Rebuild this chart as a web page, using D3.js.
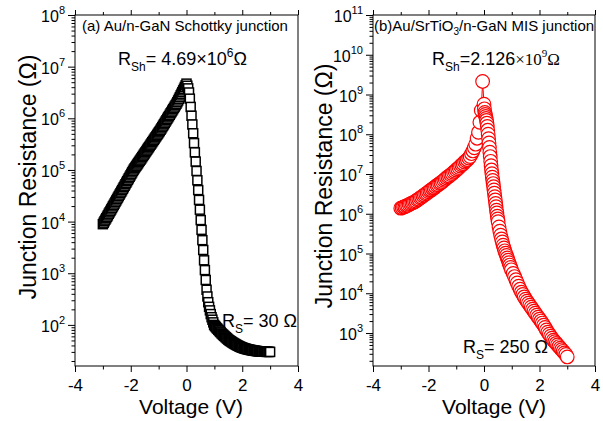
<!DOCTYPE html>
<html>
<head>
<meta charset="utf-8">
<script src="https://cdn.jsdelivr.net/npm/d3@7"></script>
<style>
  body { margin: 0; background: #fff; }
  svg { display: block; font-family: "Liberation Sans", Arial, sans-serif; }
</style>
</head>
<body>
<svg id="chart" width="603" height="421"></svg>
<script>
// (a) Au/n-GaN Schottky junction: sweep voltage (V) and resistance (ohm)
var schottkyV = [
  -3, -2.97, -2.94, -2.91, -2.88, -2.85, -2.82, -2.79, -2.76, -2.73,
  -2.7, -2.67, -2.64, -2.61, -2.58, -2.55, -2.52, -2.49, -2.46, -2.43,
  -2.4, -2.37, -2.34, -2.31, -2.28, -2.25, -2.22, -2.19, -2.16, -2.13,
  -2.1, -2.07, -2.04, -2.01, -1.98, -1.95, -1.92, -1.89, -1.86, -1.83,
  -1.8, -1.77, -1.74, -1.71, -1.68, -1.65, -1.62, -1.59, -1.56, -1.53,
  -1.5, -1.47, -1.44, -1.41, -1.38, -1.35, -1.32, -1.29, -1.26, -1.23,
  -1.2, -1.17, -1.14, -1.11, -1.08, -1.05, -1.02, -0.99, -0.96, -0.93,
  -0.9, -0.87, -0.84, -0.81, -0.78, -0.75, -0.72, -0.69, -0.66, -0.63,
  -0.6, -0.57, -0.54, -0.51, -0.48, -0.45, -0.42, -0.39, -0.36, -0.33,
  -0.3, -0.27, -0.24, -0.21, -0.18, -0.15, -0.12, -0.09, -0.06, -0.03,
  0,
  0.03, 0.06, 0.09, 0.12, 0.15, 0.18, 0.21, 0.24, 0.27, 0.3,
  0.33, 0.36, 0.39, 0.42, 0.45, 0.48, 0.51, 0.54, 0.57, 0.6,
  0.63, 0.66, 0.69, 0.72, 0.75, 0.78, 0.81, 0.84, 0.87, 0.9,
  0.93, 0.96, 0.99,
  1.02, 1.05, 1.08, 1.11, 1.14, 1.17, 1.2, 1.23, 1.26, 1.29,
  1.32, 1.35, 1.38, 1.41, 1.44, 1.47, 1.5, 1.53, 1.56, 1.59,
  1.62, 1.65, 1.68, 1.71, 1.74, 1.77, 1.8, 1.83, 1.86, 1.89,
  1.92, 1.95, 1.98, 2.01, 2.04, 2.07, 2.1, 2.13, 2.16, 2.19,
  2.22, 2.25, 2.28, 2.31, 2.34, 2.37, 2.4, 2.43, 2.46, 2.49,
  2.52, 2.55, 2.58, 2.61, 2.64, 2.67, 2.7, 2.73, 2.76, 2.79,
  2.82, 2.85, 2.88, 2.91, 2.94, 2.97, 3
];
var schottkyR = [
  8.91e3, 9.52e3, 1.02e4, 1.09e4, 1.16e4, 1.24e4, 1.32e4, 1.42e4, 1.51e4, 1.61e4,
  1.72e4, 1.84e4, 1.97e4, 2.10e4, 2.24e4, 2.40e4, 2.56e4, 2.74e4, 2.92e4, 3.12e4,
  3.33e4, 3.56e4, 3.80e4, 4.06e4, 4.34e4, 4.64e4, 4.95e4, 5.29e4, 5.65e4, 6.04e4,
  6.45e4, 6.89e4, 7.36e4, 7.86e4, 8.39e4, 8.97e4, 9.58e4, 1.02e5, 1.08e5, 1.14e5,
  1.20e5, 1.27e5, 1.34e5, 1.42e5, 1.50e5, 1.58e5, 1.67e5, 1.77e5, 1.87e5, 1.98e5,
  2.09e5, 2.21e5, 2.33e5, 2.47e5, 2.61e5, 2.75e5, 2.91e5, 3.08e5, 3.25e5, 3.44e5,
  3.63e5, 3.84e5, 4.06e5, 4.29e5, 4.53e5, 4.79e5, 5.06e5, 5.35e5, 5.65e5, 6.00e5,
  6.37e5, 6.78e5, 7.20e5, 7.65e5, 8.13e5, 8.65e5, 9.19e5, 9.77e5, 1.04e6, 1.10e6,
  1.17e6, 1.25e6, 1.32e6, 1.41e6, 1.50e6, 1.59e6, 1.69e6, 1.80e6, 1.91e6, 2.05e6,
  2.21e6, 2.38e6, 2.56e6, 2.77e6, 2.98e6, 3.21e6, 3.47e6, 3.73e6, 4.03e6, 4.34e6,
  4.69e6,
  4.27e6, 3.8e6, 3.16e6, 2.4e6, 1.66e6, 1.12e6, 7.59e5, 5.13e5, 3.31e5, 2.19e5,
  1.45e5, 9.55e4, 6.31e4, 4.07e4, 2.63e4, 1.7e4, 1.07e4, 6.92e3, 4.37e3, 2.82e3,
  1.78e3, 1.15e3, 741, 479, 355, 275, 224, 191, 162, 141,
  126, 112, 100,
  95.5, 91.2, 87.1, 84.1, 80.4, 77.6, 74.1, 71.6, 68.4, 66.1,
  63.8, 61.7, 59.6, 57.5, 55.6, 53.7, 51.9, 50.5, 49.2, 48.0,
  46.8, 45.6, 44.6, 43.6, 42.6, 41.7, 40.8, 40.0, 39.3, 38.5,
  37.8, 37.2, 36.6, 36.1, 35.6, 35.2, 34.8, 34.4, 34.0, 33.7,
  33.4, 33.1, 32.8, 32.6, 32.4, 32.1, 31.9, 31.7, 31.5, 31.3,
  31.2, 31.0, 30.9, 30.8, 30.6, 30.5, 30.5, 30.4, 30.3, 30.3,
  30.2, 30.1, 30.1, 30.1, 30.0, 30.0, 30
];

// (b) Au/SrTiO3/n-GaN MIS junction: sweep voltage (V) and resistance (ohm)
var misV = [
  -3, -2.95, -2.9, -2.85, -2.8, -2.75, -2.7, -2.65, -2.6, -2.55,
  -2.5, -2.45, -2.4, -2.35, -2.3, -2.25, -2.2, -2.15, -2.1, -2.05,
  -2, -1.95, -1.9, -1.85, -1.8, -1.75, -1.7, -1.65, -1.6, -1.55,
  -1.5, -1.45, -1.4, -1.35, -1.3, -1.25, -1.2, -1.15, -1.1, -1.05,
  -1, -0.95, -0.9, -0.85, -0.8, -0.75, -0.7, -0.65, -0.6, -0.55,
  -0.5, -0.45, -0.4, -0.35, -0.3, -0.25, -0.2, -0.15, -0.1, -0.05,
  0,
  0.015, 0.03, 0.045, 0.06, 0.075, 0.09, 0.105, 0.12, 0.135, 0.15,
  0.165, 0.18, 0.195, 0.21, 0.225, 0.24, 0.255, 0.27, 0.285, 0.3,
  0.315, 0.33, 0.345, 0.36, 0.375, 0.39, 0.405, 0.42, 0.435, 0.45,
  0.465, 0.48, 0.495,
  0.51, 0.54, 0.57, 0.6, 0.63, 0.66, 0.69, 0.72, 0.75, 0.78,
  0.81, 0.84, 0.87, 0.9, 0.93, 0.96, 0.99,
  1.05, 1.1, 1.15, 1.2, 1.25, 1.3, 1.35, 1.4, 1.45, 1.5,
  1.55, 1.6, 1.65, 1.7, 1.75, 1.8, 1.85, 1.9, 1.95, 2,
  2.05, 2.1, 2.15, 2.2, 2.25, 2.3, 2.35, 2.4, 2.45, 2.5,
  2.55, 2.6, 2.65, 2.7, 2.75, 2.8, 2.85, 2.9, 2.95, 3
];
var misR = [
  1.38e6, 1.41e6, 1.48e6, 1.51e6, 1.58e6, 1.62e6, 1.7e6, 1.78e6, 1.86e6, 1.91e6,
  2.0e6, 2.09e6, 2.24e6, 2.34e6, 2.51e6, 2.63e6, 2.82e6, 2.95e6, 3.16e6, 3.31e6,
  3.55e6, 3.8e6, 3.98e6, 4.27e6, 4.47e6, 4.79e6, 5.13e6, 5.37e6, 5.75e6, 6.03e6,
  6.46e6, 6.92e6, 7.41e6, 7.94e6, 8.51e6, 8.91e6, 9.55e6, 1.02e7, 1.1e7, 1.17e7,
  1.26e7, 1.35e7, 1.45e7, 1.58e7, 1.7e7, 1.82e7, 2.0e7, 2.14e7, 2.29e7, 2.51e7,
  2.75e7, 3.24e7, 3.8e7, 4.57e7, 5.62e7, 7.94e7, 1.12e8, 2.0e8, 3.98e8, 2.126e9,
  5.7e8,
  4.37e8, 3.55e8, 3.16e8, 2.82e8, 2.51e8, 2.24e8, 1.91e8, 1.58e8, 1.26e8, 1.0e8,
  7.76e7, 6.03e7, 4.68e7, 3.55e7, 2.75e7, 2.09e7, 1.62e7, 1.26e7, 1.02e7, 8.32e6,
  6.92e6, 5.75e6, 4.79e6, 3.98e6, 3.31e6, 2.69e6, 2.24e6, 1.82e6, 1.51e6, 1.23e6,
  1.05e6, 8.71e5, 7.41e5,
  6.31e5, 4.68e5, 3.63e5, 2.88e5, 2.34e5, 1.95e5, 1.62e5, 1.38e5, 1.17e5, 1.02e5,
  8.91e4, 7.76e4, 6.76e4, 5.89e4, 5.13e4, 4.47e4, 3.89e4,
  3.16e4, 2.63e4, 2.19e4, 1.82e4, 1.51e4, 1.26e4, 1.07e4, 9.33e3, 8.13e3, 7.08e3,
  6.31e3, 5.62e3, 5.01e3, 4.47e3, 3.98e3, 3.55e3, 3.16e3, 2.82e3, 2.51e3, 2.24e3,
  2.0e3, 1.78e3, 1.58e3, 1.38e3, 1.2e3, 1.05e3, 933, 832, 741, 661,
  603, 550, 501, 457, 417, 380, 347, 316, 288, 250
];

var xTicks = [-4, -2, 0, 2, 4];
var xMinorTicks = [-3, -1, 1, 3];
var schottkyDecades = [2, 3, 4, 5, 6, 7, 8];
var misDecades = [3, 4, 5, 6, 7, 8, 9, 10, 11];

var svg = d3.select("#chart");
var plotTop = 15, plotBottom = 366;

function minorLogTicks(domain) {
  var out = [];
  var lo = Math.floor(Math.log10(domain[0])), hi = Math.ceil(Math.log10(domain[1]));
  for (var e = lo; e < hi; e++) {
    for (var k = 2; k <= 9; k++) {
      var v = k * Math.pow(10, e);
      if (v >= domain[0] && v <= domain[1]) out.push(v);
    }
  }
  return out;
}

function tickOnly(g, axis, translate) {
  var a = g.append("g").attr("transform", translate).call(axis.tickFormat(""));
  a.selectAll("text").remove();
  return a;
}

function drawPanel(p) {
  var g = svg.append("g");
  var x = d3.scaleLinear().domain([-4, 4]).range([p.left, p.right]);
  var y = d3.scaleLog().domain(p.yDomain).range([plotBottom, plotTop]);

  // bottom axis with labels
  var xb = g.append("g").attr("transform", "translate(0," + plotBottom + ")")
    .call(d3.axisBottom(x).tickValues(xTicks).tickSize(6).tickFormat(function(d) { return String(d); }));
  xb.attr("font-size", 17).attr("font-family", null);
  xb.selectAll("text").attr("y", 25).attr("dy", null).attr("fill", "#000");

  tickOnly(g, d3.axisBottom(x).tickValues(xMinorTicks).tickSize(3.5), "translate(0," + plotBottom + ")");
  tickOnly(g, d3.axisTop(x).tickValues(xTicks).tickSize(5), "translate(0," + plotTop + ")");
  tickOnly(g, d3.axisTop(x).tickValues(xMinorTicks).tickSize(3), "translate(0," + plotTop + ")");

  // left axis, decades + minor
  tickOnly(g, d3.axisLeft(y).tickValues(p.decades.map(function(d) { return Math.pow(10, d); })).tickSize(7),
    "translate(" + p.left + ",0)");
  tickOnly(g, d3.axisLeft(y).tickValues(minorLogTicks(p.yDomain)).tickSize(3.5),
    "translate(" + p.left + ",0)");

  g.selectAll(".domain").remove();
  g.selectAll(".tick line").attr("stroke", "#000").attr("stroke-width", 1);

  g.selectAll("text.ylab").data(p.decades).enter().append("text")
    .attr("class", "ylab")
    .attr("x", p.left - 10)
    .attr("y", function(d) { return y(Math.pow(10, d)) + 7; })
    .attr("text-anchor", "end")
    .attr("font-size", 16)
    .each(function(d) {
      var t = d3.select(this);
      t.append("tspan").text("10");
      t.append("tspan").attr("dy", -8).attr("font-size", 11).text(d);
    });

  // frame
  g.append("rect")
    .attr("x", p.left).attr("y", plotTop)
    .attr("width", p.right - p.left).attr("height", plotBottom - plotTop)
    .attr("fill", "none").attr("stroke", "#000").attr("stroke-width", 1);

  // axis titles
  g.append("text")
    .attr("transform", "translate(" + p.yTitleX + "," + p.yTitleY + ") rotate(-90)")
    .attr("text-anchor", "middle").attr("font-size", 23)
    .text("Junction Resistance (\u03A9)");
  g.append("text")
    .attr("x", p.xTitleX).attr("y", 414)
    .attr("text-anchor", "middle").attr("font-size", 21)
    .text("Voltage (V)");

  return { g: g, x: x, y: y };
}

// (a) panel
var a = drawPanel({
  left: 75, right: 298, yDomain: [16, 1e8], decades: schottkyDecades,
  yTitleX: 36, yTitleY: 177, xTitleX: 191
});
a.g.append("g").selectAll("rect").data(d3.zip(schottkyV, schottkyR)).enter().append("rect")
  .attr("x", function(d) { return a.x(d[0]) - 4.5; })
  .attr("y", function(d) { return a.y(d[1]) - 4.5; })
  .attr("width", 9).attr("height", 9)
  .attr("fill", "#fff").attr("stroke", "#000").attr("stroke-width", 1.5);

// (b) panel
var b = drawPanel({
  left: 373, right: 595, yDomain: [148, 1e11], decades: misDecades,
  yTitleX: 332, yTitleY: 186, xTitleX: 494
});
var ptsB = d3.zip(misV, misR);
b.g.append("path").datum(ptsB)
  .attr("fill", "none").attr("stroke", "#ff0000").attr("stroke-width", 1)
  .attr("d", d3.line().x(function(d) { return b.x(d[0]); }).y(function(d) { return b.y(d[1]); }));
b.g.append("g").selectAll("circle").data(ptsB).enter().append("circle")
  .attr("cx", function(d) { return b.x(d[0]); })
  .attr("cy", function(d) { return b.y(d[1]); })
  .attr("r", 6.8)
  .attr("fill", "#fff").attr("stroke", "#ff0000").attr("stroke-width", 1.2);

// panel labels and annotations
svg.append("text").attr("x", 82).attr("y", 31).attr("font-size", 15)
  .text("(a) Au/n-GaN Schottky junction");

var tb = svg.append("text").attr("x", 374).attr("y", 31).attr("font-size", 15);
tb.append("tspan").text("(b)Au/SrTiO");
tb.append("tspan").attr("dy", 4).attr("font-size", 10).text("3");
tb.append("tspan").attr("dy", -4).text("/n-GaN MIS junction");

var r1 = svg.append("text").attr("x", 118).attr("y", 65).attr("font-size", 18);
r1.append("tspan").text("R");
r1.append("tspan").attr("dy", 6).attr("font-size", 12).text("Sh");
r1.append("tspan").attr("dy", -6).text("= 4.69\u00D710");
r1.append("tspan").attr("dy", -8).attr("font-size", 12).text("6");
r1.append("tspan").attr("dy", 8).text("\u03A9");

var r2 = svg.append("text").attr("x", 432).attr("y", 65).attr("font-size", 18);
r2.append("tspan").text("R");
r2.append("tspan").attr("dy", 6).attr("font-size", 12).text("Sh");
r2.append("tspan").attr("dy", -6).text("=2.126");
r2.append("tspan").attr("font-family", "Liberation Serif, serif").attr("font-size", 17).text("\u00D710");
r2.append("tspan").attr("dy", -8).attr("font-family", "Liberation Serif, serif").attr("font-size", 11).text("9");
r2.append("tspan").attr("dy", 8).attr("font-family", "Liberation Serif, serif").attr("font-size", 17).text("\u03A9");

var r3 = svg.append("text").attr("x", 222).attr("y", 327).attr("font-size", 18);
r3.append("tspan").text("R");
r3.append("tspan").attr("dy", 6).attr("font-size", 12).text("S");
r3.append("tspan").attr("dy", -6).text("= 30 \u03A9");

var r4 = svg.append("text").attr("x", 463).attr("y", 353).attr("font-size", 18);
r4.append("tspan").text("R");
r4.append("tspan").attr("dy", 6).attr("font-size", 12).text("S");
r4.append("tspan").attr("dy", -6).text("= 250 \u03A9");
</script>
</body>
</html>
